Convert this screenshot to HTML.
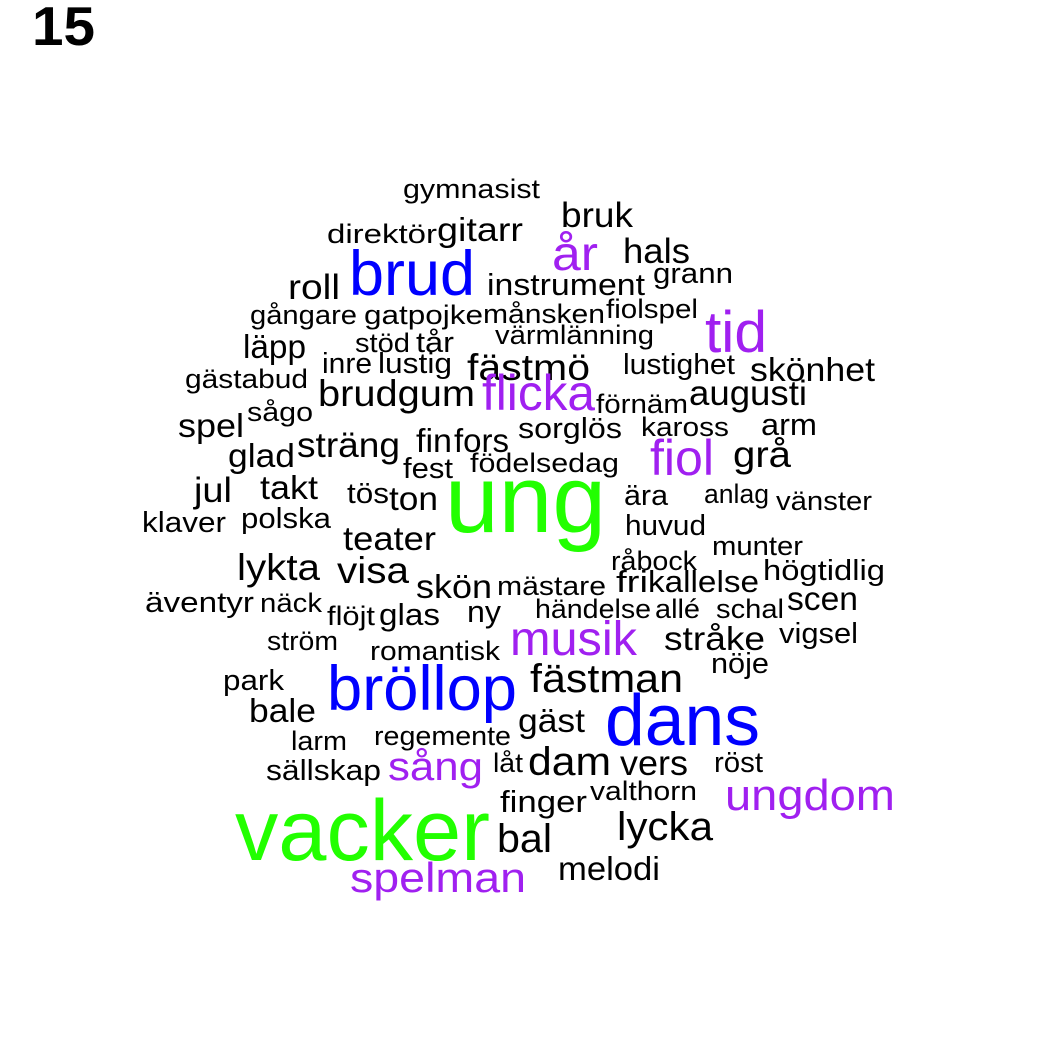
<!DOCTYPE html>
<html><head><meta charset="utf-8"><style>
html,body{margin:0;padding:0;background:#fff;}
svg{display:block;}
text{font-family:"Liberation Sans",Arial,sans-serif;}
</style></head><body>
<svg id="cloud" width="1050" height="1050" viewBox="0 0 1050 1050" xmlns="http://www.w3.org/2000/svg">
<rect width="1050" height="1050" fill="#fff"/>
<text x="32" y="45" font-size="55" font-weight="bold" fill="#000" textLength="63" lengthAdjust="spacingAndGlyphs">15</text>
</svg>
<script>
// word, font size (frequency weight), colour group
const words = ["gymnasist","direktör","gitarr","brud","roll","gångare","gatpojke","månsken","fiolspel","stöd","tår","läpp","värmlänning","inre","lustig","fästmö","lustighet","skönhet","gästabud","brudgum","flicka","tid","år","bruk","hals","grann","instrument","förnäm","augusti","sågo","spel","sorglös","kaross","arm","sträng","fin","fors","glad","fest","födelsedag","fiol","grå","jul","takt","tös","ton","ung","ära","anlag","vänster","klaver","polska","huvud","teater","lykta","visa","skön","mästare","råbock","munter","högtidlig","fri","kallelse","äventyr","näck","flöjt","glas","ny","händelse","allé","schal","scen","ström","romantisk","musik","stråke","vigsel","nöje","park","bröllop","fästman","bale","dans","gäst","larm","regemente","sällskap","sång","låt","dam","vers","röst","ungdom","valthorn","finger","vacker","bal","lycka","melodi","spelman"];
const sizes = [24,24,30,63,32,24,24,24,24,24,26,30,24,26,26,34,26,30,24,34,50,58,48,32,32,26,28,24,32,24,30,26,24,28,32,30,30,30,26,24,50,34,32,30,26,30,96,26,24,24,26,26,26,30,34,34,30,24,24,24,26,28,28,26,24,24,28,28,24,24,24,30,24,24,48,30,26,26,26,63,36,30,72,30,24,24,26,40,24,36,32,26,44,24,28,86,36,36,30,42];
const groups = ["k","k","k","b","k","k","k","k","k","k","k","k","k","k","k","k","k","k","k","k","p","p","p","k","k","k","k","k","k","k","k","k","k","k","k","k","k","k","k","k","p","k","k","k","k","k","g","k","k","k","k","k","k","k","k","k","k","k","k","k","k","k","k","k","k","k","k","k","k","k","k","k","k","k","p","k","k","k","k","b","k","k","b","k","k","k","k","p","k","k","k","k","p","k","k","g","k","k","k","p"];
// layout from the word cloud placement: left, right, baseline
const layoutLeft = [403,327,437,349,288,250,364,483,606,355,416,243,495,322,378,467,623,750,185,318,482,705,552,561,623,653,487,596,689,247,178,518,641,761,297,416,454,228,403,470,650,733,194,260,347,389,445,624,704,776,142,241,625,343,237,337,416,497,611,712,763,616,648,145,260,327,379,467,535,655,716,787,267,370,510,664,779,711,223,327,530,249,605,518,291,374,266,388,493,528,620,714,725,590,500,235,497,617,558,350];
const layoutRight = [540,437,523,475,340,357,483,605,698,410,454,306,654,372,452,590,735,875,308,475,595,767,598,633,690,733,645,688,807,313,244,622,729,817,400,452,509,295,453,619,714,791,232,318,389,438,606,668,769,872,226,331,706,436,320,409,492,606,697,803,885,648,759,254,322,375,440,501,651,700,784,858,338,500,637,765,858,769,284,517,683,316,760,585,347,511,381,483,523,611,688,763,895,697,587,490,552,713,660,526];
const layoutBase = [198,243,241,295,299,324,324,323,318,352,352,358,344,373,373,380,374,381,388,406,410,352,270,227,263,283,295,413,405,421,437,438,436,435,457,452,452,467,478,472,475,467,502,499,503,510,532,505,503,510,532,528,535,550,580,583,598,595,570,555,580,592,592,612,612,625,625,622,618,618,618,610,650,660,655,650,643,673,690,710,692,722,745,732,750,745,780,780,772,775,775,772,810,800,812,860,852,840,880,892];
const colorMap = {k:"#000000", b:"#0000FF", p:"#A020F0", g:"#22FF00"};
const svg = document.getElementById('cloud');
const NS = "http://www.w3.org/2000/svg";
for (let i = 0; i < words.length; i++) {
  const t = document.createElementNS(NS, 'text');
  const fs = sizes[i] <= 36 ? sizes[i] * 1.1 : sizes[i];
  t.setAttribute('x', layoutLeft[i]);
  t.setAttribute('y', layoutBase[i]);
  t.setAttribute('font-size', fs);
  t.setAttribute('fill', colorMap[groups[i]]);
  t.setAttribute('textLength', layoutRight[i] - layoutLeft[i]);
  t.setAttribute('lengthAdjust', 'spacingAndGlyphs');
  t.textContent = words[i];
  
  
  svg.appendChild(t);
}
</script>
</body></html>
